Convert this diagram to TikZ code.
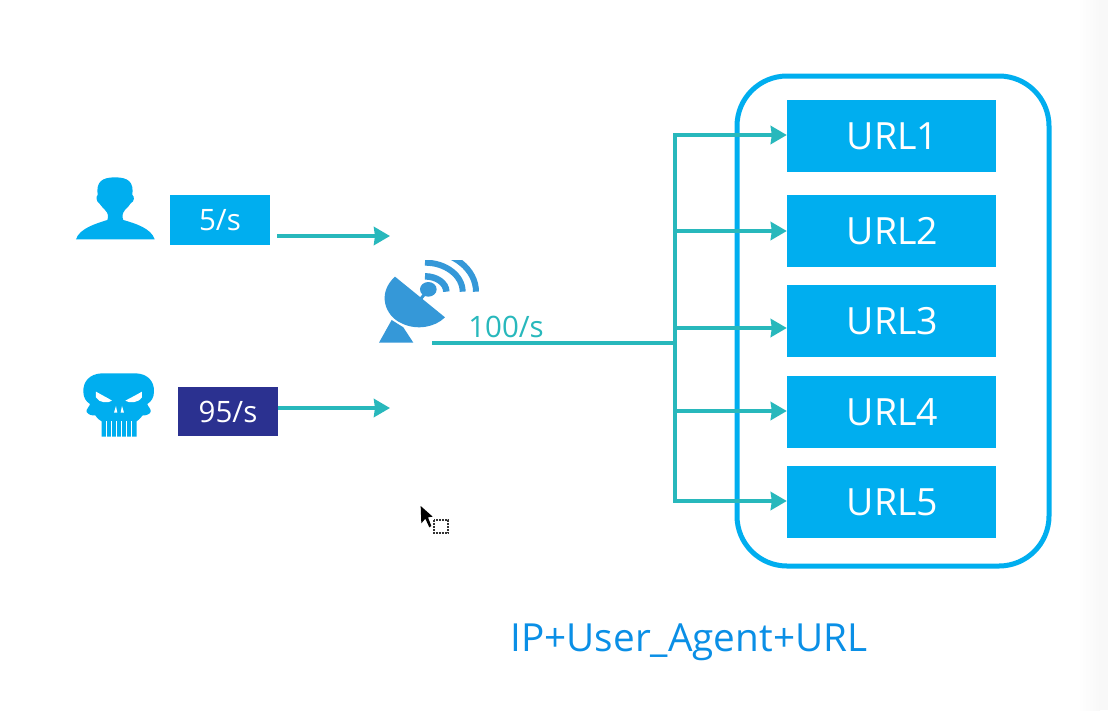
\documentclass[tikz,border=0pt]{standalone}
\usepackage{fontspec}
\setmainfont{Open Sans}
\usetikzlibrary{arrows.meta}
\definecolor{cyanblue}{HTML}{00AEEF}
\definecolor{tealline}{HTML}{28B8BC}
\definecolor{navybox}{HTML}{2B3190}
\definecolor{dishblue}{HTML}{3598D8}
\definecolor{captionblue}{HTML}{0A8FE6}
\definecolor{edgegrey}{HTML}{F8F8F8}
\tikzset{
  urlbox/.style={fill=cyanblue,text=white,minimum width=209pt,minimum height=72pt,inner sep=0pt,font=\fontsize{37.5}{37.5}\selectfont},
  ratebox/.style={text=white,minimum width=100pt,minimum height=50pt,inner sep=0pt,font=\fontsize{29.5}{29.5}\selectfont},
  flow/.style={draw=tealline,line width=4.6pt},
  flowarrow/.style={flow,-{Stealth[length=16pt,width=18pt,inset=1pt]}},
}
\begin{document}
\begin{tikzpicture}[x=1pt,y=-1pt]
\useasboundingbox (0,0) rectangle (1108,710);
\fill[white] (0,0) rectangle (1108,710);
\fill[left color=white,right color=edgegrey] (1078,0) rectangle (1100,710);
\fill[edgegrey] (1100,0) rectangle (1108,710);
% container
\node[draw=cyanblue,line width=5pt,rounded corners=50pt,minimum width=312pt,minimum height=490pt,inner sep=0pt] (group) at (893,321) {};
% URL boxes
\node[urlbox] (u1) at (891.5,136) {\hspace{2pt}URL1};
\node[urlbox] (u2) at (891.5,231) {\hspace{2pt}URL2};
\node[urlbox] (u3) at (891.5,321) {\hspace{2pt}URL3};
\node[urlbox] (u4) at (891.5,412) {\hspace{2pt}URL4};
\node[urlbox] (u5) at (891.5,502) {\hspace{2pt}URL5};
% rate boxes
\node[ratebox,fill=cyanblue] (good) at (220,220) {5/s};
\node[ratebox,fill=navybox,minimum height=49pt] (bad) at (228,411.5) {95/s};
% free ends
\coordinate (goodend) at (390,236);
\coordinate (goodstart) at (277,236);
\coordinate (badend) at (390,408);
\coordinate (trunk) at (432,343);
\coordinate (fork) at (675,343);
\coordinate (t1) at (675,135);
\coordinate (t2) at (675,231);
\coordinate (t3) at (675,328);
\coordinate (t4) at (675,411);
\coordinate (t5) at (675,501);
% connectors
\draw[flowarrow] (goodstart) -- (goodend);
\draw[flowarrow] (bad.east |- badend) -- (badend);
\draw[flow] (trunk) -- (fork);
\draw[flow,line cap=rect] (t1) -- (t5);
\draw[flowarrow] (t1) -- (u1.west |- t1);
\draw[flowarrow] (t2) -- (u2.west |- t2);
\draw[flowarrow] (t3) -- (u3.west |- t3);
\draw[flowarrow] (t4) -- (u4.west |- t4);
\draw[flowarrow] (t5) -- (u5.west |- t5);
% labels
\node[text=tealline,inner sep=0pt,font=\fontsize{29.5}{29.5}\selectfont] (rate) at (506,327) {100/s};
\node[text=captionblue,inner sep=0pt,font=\fontsize{38.7}{38.7}\selectfont] (caption) at (689,642) {IP+User\_Agent+URL};
% icons (coordinates in 3x zoom units)
\begin{scope}[shift={(60,160)},x=0.3333pt,y=-0.3333pt]
  % person
  \fill[cyanblue] (48,238) .. controls (58,205) and (110,190) .. (142,180) .. controls (145,172) and (146,160) .. (135,150)
    .. controls (125,140) and (122,135) .. (118,130) .. controls (108,125) and (108,108) .. (113,105)
    .. controls (108,66) and (125,52) .. (165,52) .. controls (205,52) and (222,66) .. (217,105)
    .. controls (224,108) and (224,125) .. (212,130) .. controls (208,138) and (200,145) .. (195,150)
    .. controls (186,160) and (186,172) .. (190,180) .. controls (225,190) and (274,205) .. (284,238) -- cycle;
  % skull
  \fill[cyanblue] (125,640) -- (228,640) .. controls (265,642) and (283,665) .. (282,695)
    .. controls (282,712) and (274,725) .. (262,732) .. controls (262,738) and (276,750) .. (272,756)
    .. controls (268,764) and (254,768) .. (248,766) .. controls (240,776) and (234,782) .. (230,784)
    -- (230,830) -- (125,830) -- (125,784) .. controls (120,782) and (112,776) .. (106,766)
    .. controls (98,768) and (84,764) .. (80,756) .. controls (76,750) and (90,738) .. (90,732)
    .. controls (78,725) and (70,712) .. (70,695) .. controls (69,665) and (88,642) .. (125,640) -- cycle;
  \fill[white] (108,695) .. controls (125,705) and (145,715) .. (156,722) .. controls (145,730) and (118,730) .. (108,712) -- cycle;
  \fill[white] (246,695) .. controls (229,705) and (209,715) .. (196,722) .. controls (207,730) and (234,730) .. (246,712) -- cycle;
  \fill[white] (162,758) -- (168,738) -- (172,758) -- cycle;
  \fill[white] (182,758) -- (186,738) -- (192,758) -- cycle;
  \foreach \gx in {137,152,167,182,197,212} \fill[white] (\gx,784) rectangle (\gx+4,831);
\end{scope}
\begin{scope}[shift={(360,240)},x=0.3333pt,y=-0.3333pt]
  % dish
  \fill[dishblue] (105,110) -- (255,232) .. controls (225,262) and (170,272) .. (125,250)
    .. controls (75,228) and (50,160) .. (105,110) -- cycle;
  \fill[dishblue] (95,240) -- (57,308) -- (160,308) -- (130,262) -- cycle;
  \draw[dishblue,line width=3pt] (205,148) -- (178,182);
  \fill[dishblue] (205,148) ellipse (25 and 22);
  \begin{scope}
    \clip (195,60) rectangle (360,155);
    \draw[dishblue,line width=6.5pt] (195,109) arc[start angle=-90,end angle=0,x radius=64,y radius=46];
    \draw[dishblue,line width=6pt] (195,68) arc[start angle=-90,end angle=0,x radius=113,y radius=87];
    \draw[dishblue,line width=6pt] (195,33) arc[start angle=-90,end angle=0,x radius=153,y radius=122];
  \end{scope}
\end{scope}
% cursor
\begin{scope}[shift={(400,490)},x=0.3333pt,y=-0.3333pt]
  \fill[black] (62,48) -- (64,100) -- (76,86) -- (88,112) -- (94,108) -- (84,82) -- (98,80) -- cycle;
  \draw[black!80,line width=2pt,densely dotted] (101,91) rectangle (145,130);
\end{scope}
\end{tikzpicture}
\end{document}
